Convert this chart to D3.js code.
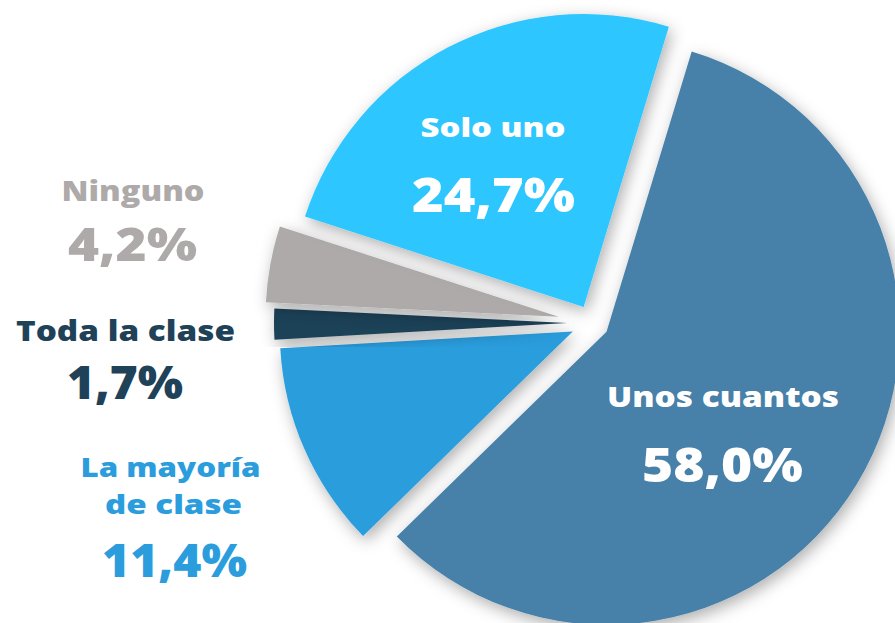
<!DOCTYPE html>
<html>
<head>
<meta charset="utf-8">
<script src="https://cdn.jsdelivr.net/npm/d3@7"></script>
<style>
  html, body { margin: 0; padding: 0; background: #fff; overflow: hidden; }
  text { font-family: "Open Sans", "Noto Sans", sans-serif; font-weight: 800; }
</style>
</head>
<body>
<div id="chart"></div>
<script>
// data
const categories = ["Unos cuantos", "La mayoría de clase", "Toda la clase", "Ninguno", "Solo uno"];
const values = [58.0, 11.4, 1.7, 4.2, 24.7];
const valueLabels = ["58,0%", "11,4%", "1,7%", "4,2%", "24,7%"];

// styles
const colors = ["#4680a8", "#2b9ddd", "#1f4259", "#aeaaaa", "#2ec6fe"];
const explode = [17, 21, 25, 34, 18];

const w = 895;
const h = 623;
const cx = 592, cy = 323, r = 293;
const deg = Math.PI / 180;

const svg = d3.select("#chart")
  .append("svg")
  .attr("width", w)
  .attr("height", h);

// soft drop shadow
const defs = svg.append("defs");
const f = defs.append("filter")
  .attr("id", "shadow")
  .attr("x", "-20%").attr("y", "-20%")
  .attr("width", "140%").attr("height", "140%");
f.append("feDropShadow")
  .attr("dx", 3).attr("dy", 5)
  .attr("stdDeviation", 8)
  .attr("flood-color", "#000")
  .attr("flood-opacity", 0.32);

const pie = d3.pie()
  .sort(null)
  .value(d => d)
  .startAngle(16.9 * deg)
  .endAngle((16.9 + 360) * deg);

const arc = d3.arc().innerRadius(0).outerRadius(r);
const arcs = pie(values);

const g = svg.append("g").attr("transform", `translate(${cx},${cy})`);

g.selectAll("path")
  .data(arcs)
  .enter()
  .append("path")
  .attr("d", arc)
  .attr("fill", (d, i) => colors[i])
  .attr("filter", "url(#shadow)")
  .attr("transform", (d, i) => {
    const mid = (d.startAngle + d.endAngle) / 2;
    return `translate(${Math.sin(mid) * explode[i]},${-Math.cos(mid) * explode[i]})`;
  });

// labels (x = centre, len = stretched width to mimic the wide bold face)
function label(lines, color) {
  lines.forEach(l => {
    svg.append("text")
      .attr("x", l.x)
      .attr("y", l.y)
      .attr("text-anchor", "middle")
      .attr("fill", color)
      .attr("textLength", l.len)
      .attr("lengthAdjust", "spacingAndGlyphs")
      .style("font-size", l.size + "px")
      .text(l.t);
  });
}

label([{t: categories[0], x: 723, y: 407, size: 29, len: 232},
       {t: valueLabels[0], x: 722.5, y: 482, size: 47, len: 161}], "#fff");
label([{t: categories[4], x: 493, y: 137, size: 27, len: 145},
       {t: valueLabels[4], x: 493.5, y: 212, size: 48, len: 163}], "#fff");
label([{t: categories[3], x: 133, y: 201, size: 28, len: 143},
       {t: valueLabels[3], x: 132.5, y: 261, size: 46, len: 129}], colors[3]);
label([{t: categories[2], x: 125.5, y: 341, size: 28, len: 219},
       {t: valueLabels[2], x: 125, y: 399, size: 46, len: 116}], colors[2]);
label([{t: "La mayoría", x: 170.5, y: 477, size: 27, len: 180},
       {t: "de clase", x: 173.5, y: 514, size: 27, len: 137},
       {t: valueLabels[1], x: 174.5, y: 577, size: 46, len: 145}], colors[1]);
</script>
</body>
</html>
